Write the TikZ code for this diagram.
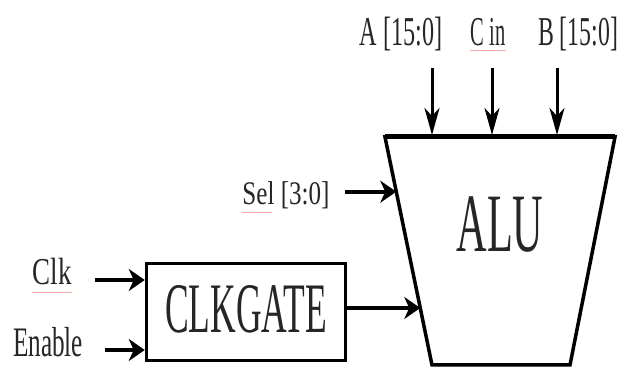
\documentclass[tikz,border=0pt]{standalone}
\usepackage{fontspec}
\setmainfont{Liberation Serif}
\usetikzlibrary{arrows.meta, positioning, calc}

\newcommand{\squeeze}[2]{\scalebox{#1}[1]{#2}}

\begin{document}
\begin{tikzpicture}[x=1pt, y=-1pt,
      lbl/.style={inner sep=0pt, anchor=base, text=black!85},
      blk/.style={draw=black, line width=3.5pt, fill=white},
      harrow/.style={-{Stealth[length=16pt, width=22pt, inset=5pt]}, line width=4pt},
      varrow/.style={-{Stealth[length=27pt, width=15pt, inset=8pt]}, line width=3pt},
      squig/.style={red!35, line width=1pt},
    ]
    \useasboundingbox (0,0) rectangle (622,374);

    % ALU body
    \coordinate (tl) at (385,137);
    \coordinate (tr) at (615,137);
    \coordinate (br) at (570,365);
    \coordinate (bl) at (432,365);
    \draw[blk] (tl) -- (tr) -- (br) -- (bl) -- cycle;
    \draw[line width=5pt] (tl) -- (tr);
    \node[lbl, font=\fontsize{83}{83}\selectfont] (alu) at (500,252) {\squeeze{0.51}{ALU}};

    % clock gate
    \node[blk, minimum width=199pt, minimum height=97pt, inner sep=0pt, text depth=7pt,
          text=black!85, font=\fontsize{71}{71}\selectfont] (gate) at (246,312) {\squeeze{0.5}{CLKGATE}};

    % inputs
    \node[lbl, font=\fontsize{41}{41}\selectfont] (a) at (401,46) {\squeeze{0.59}{A [15:0]}};
    \node[lbl, font=\fontsize{41}{41}\selectfont] (cin) at (488,46) {\squeeze{0.5}{C in}};
    \node[lbl, font=\fontsize{41}{41}\selectfont] (b) at (578,46) {\squeeze{0.58}{B [15:0]}};
    \node[lbl, font=\fontsize{33}{33}\selectfont] (sel) at (286,205) {\squeeze{0.76}{Sel [3:0]}};
    \node[lbl, font=\fontsize{38}{38}\selectfont] (clk) at (52,285) {\squeeze{0.71}{Clk}};
    \node[lbl, font=\fontsize{42}{42}\selectfont] (en) at (48,357) {\squeeze{0.6}{Enable}};

    \coordinate (ain) at (432,135);
    \coordinate (cinin) at (492,135);
    \coordinate (bin) at (557,135);
    \coordinate (selin) at ($(tl)!0.24!(bl)$);
    \coordinate (gin) at ($(tl)!0.75!(bl)$);
    \coordinate (clkfrom) at (95,280);
    \coordinate (enfrom) at (105,350);

    \draw[varrow] (ain |- 0,68) -- (ain);
    \draw[varrow] (cinin |- 0,68) -- (cinin);
    \draw[varrow] (bin |- 0,68) -- (bin);
    \draw[harrow] (selin -| 345,0) -- (selin);
    \draw[harrow] (gin -| gate.east) -- (gin);
    \draw[harrow] (clkfrom) -- (clkfrom -| gate.west);
    \draw[harrow] (enfrom) -- (enfrom -| gate.west);

    % spell-check marks
    \draw[squig] ([yshift=-8pt]clk.base west) -- ([yshift=-8pt]clk.base east);
    \draw[squig] ([yshift=-5pt]cin.base west) -- ([yshift=-5pt]cin.base east);
    \draw[squig] ([yshift=-8pt]sel.base west) -- ([yshift=-8pt, xshift=30pt]sel.base west);
  \end{tikzpicture}
\end{document}
